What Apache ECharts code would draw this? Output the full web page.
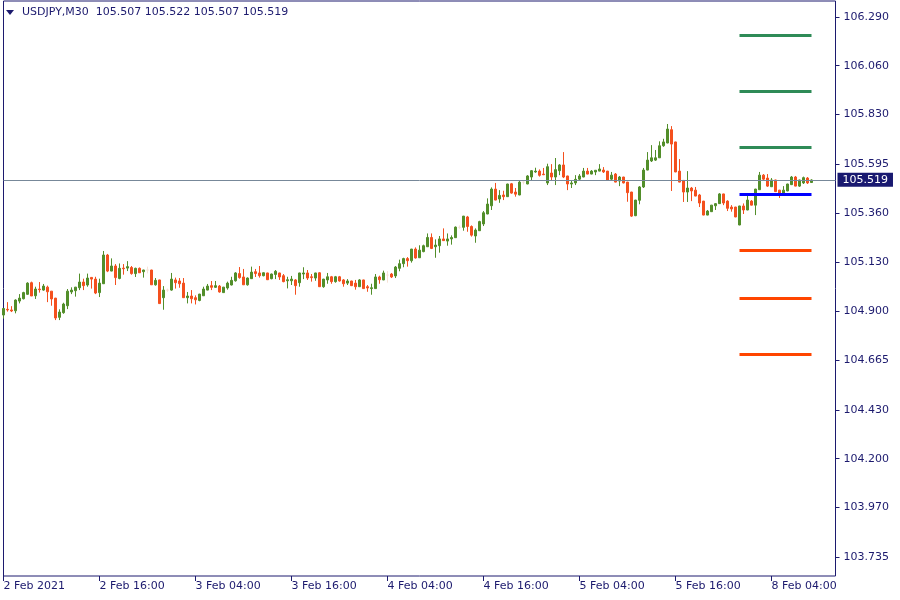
<!DOCTYPE html>
<html><head><meta charset="utf-8">
<script src="https://cdn.jsdelivr.net/npm/echarts@6/dist/echarts.min.js"></script>
<style>html,body{margin:0;padding:0;background:#fff}#c{width:900px;height:600px}</style>
</head><body><div id="c"></div>
<script>
const symbolName = 'USDJPY,M30';
const lastOHLC = [105.507, 105.522, 105.507, 105.519];
const currentPrice = 105.519;

const opens = [
104.880,104.907,104.904,104.900,104.946,104.957,104.978,105.033,104.971,105.003,
104.998,105.012,104.993,104.960,104.869,104.891,104.924,104.989,104.995,105.009,
105.036,105.022,105.058,105.050,104.986,105.028,105.164,105.088,105.112,105.053,
105.102,105.102,105.105,105.076,105.101,105.085,105.093,105.093,105.023,105.046,
104.962,104.998,104.998,105.046,105.041,105.031,104.962,104.970,104.962,104.949,
104.971,104.998,105.019,105.011,105.017,104.986,105.008,105.022,105.042,105.076,
105.060,105.023,105.052,105.085,105.079,105.066,105.079,105.052,105.072,105.079,
105.066,105.042,105.042,105.046,105.033,105.074,105.079,105.061,105.055,105.080,
105.014,105.046,105.061,105.038,105.061,105.046,105.031,105.041,105.031,105.014,
105.046,105.014,105.005,105.005,105.060,105.046,105.069,105.074,105.065,105.101,
105.123,105.147,105.137,105.192,105.151,105.180,105.203,105.247,105.203,105.208,
105.240,105.230,105.240,105.246,105.295,105.295,105.344,105.299,105.254,105.279,
105.311,105.358,105.397,105.476,105.429,105.448,105.440,105.501,105.462,105.448,
105.509,105.500,105.533,105.557,105.561,105.547,105.505,105.552,105.533,105.563,
105.590,105.538,105.500,105.505,105.523,105.533,105.561,105.547,105.557,105.561,
105.566,105.561,105.523,105.547,105.514,105.533,105.509,105.462,105.350,105.423,
105.486,105.566,105.609,105.613,105.624,105.681,105.694,105.757,105.699,105.561,
105.517,105.462,105.481,105.471,105.448,105.419,105.353,105.369,105.397,105.407,
105.453,105.419,105.391,105.391,105.306,105.396,105.377,105.419,105.400,105.473,
105.542,105.528,105.487,105.519,105.471,105.453,105.467,105.497,105.533,105.490,
105.505,105.528,105.507];
const closes = [
104.911,104.904,104.899,104.951,104.960,104.986,105.031,104.970,105.003,105.000,
105.017,104.990,104.956,104.866,104.894,104.932,104.993,104.998,105.012,105.036,
105.019,105.055,105.050,104.984,105.031,105.164,105.088,105.112,105.057,105.101,
105.099,105.109,105.076,105.101,105.080,105.093,105.093,105.023,105.044,104.934,
104.998,104.998,105.050,105.033,105.028,104.962,104.970,104.957,104.952,104.979,
105.003,105.017,105.011,105.019,104.989,105.012,105.031,105.044,105.079,105.057,
105.023,105.055,105.083,105.076,105.066,105.080,105.047,105.074,105.087,105.060,
105.038,105.047,105.050,105.019,105.079,105.079,105.055,105.057,105.079,105.014,
105.050,105.061,105.038,105.061,105.041,105.028,105.041,105.019,105.014,105.046,
105.005,105.008,105.009,105.060,105.047,105.079,105.069,105.060,105.107,105.123,
105.147,105.137,105.192,105.150,105.187,105.208,105.247,105.195,105.211,105.240,
105.232,105.240,105.247,105.296,105.295,105.348,105.299,105.258,105.282,105.322,
105.364,105.405,105.476,105.424,105.446,105.440,105.500,105.457,105.452,105.509,
105.509,105.538,105.563,105.561,105.541,105.544,105.582,105.533,105.568,105.590,
105.533,105.500,105.505,105.522,105.538,105.561,105.547,105.561,105.565,105.571,
105.557,105.519,105.542,105.509,105.533,105.505,105.459,105.348,105.424,105.486,
105.566,105.613,105.624,105.624,105.681,105.699,105.760,105.689,105.557,105.509,
105.462,105.481,105.467,105.443,105.410,105.353,105.372,105.400,105.407,105.453,
105.410,105.385,105.382,105.344,105.396,105.377,105.424,105.400,105.476,105.542,
105.523,105.490,105.519,105.464,105.453,105.471,105.500,105.533,105.490,105.519,
105.530,105.505,105.519];
const lows = [
104.863,104.896,104.894,104.888,104.935,104.954,104.975,104.970,104.956,104.986,
104.995,104.941,104.924,104.856,104.856,104.886,104.908,104.979,104.967,104.998,
104.998,105.014,105.005,104.979,104.965,105.027,105.083,105.087,105.022,105.049,
105.071,105.088,105.071,105.060,105.079,105.057,105.077,105.022,105.019,104.933,
104.905,104.990,104.995,105.005,105.009,104.961,104.935,104.935,104.930,104.945,
104.970,104.997,104.998,105.008,104.986,104.985,105.000,105.020,105.038,105.052,
105.022,105.019,105.051,105.060,105.057,105.063,105.046,105.049,105.050,105.046,
105.035,105.006,105.022,104.976,105.014,105.050,105.046,105.038,105.042,105.013,
105.009,105.028,105.028,105.033,105.038,105.014,105.022,105.017,105.000,105.013,
105.004,104.990,104.976,105.004,105.028,105.045,105.033,105.055,105.055,105.087,
105.106,105.109,105.128,105.147,105.150,105.177,105.202,105.192,105.151,105.175,
105.231,105.208,105.213,105.245,105.288,105.279,105.274,105.251,105.222,105.278,
105.301,105.357,105.377,105.423,105.411,105.424,105.439,105.454,105.440,105.447,
105.498,105.499,105.519,105.553,105.535,105.542,105.495,105.517,105.495,105.542,
105.528,105.471,105.481,105.495,105.519,105.532,105.546,105.546,105.542,105.560,
105.552,105.518,105.519,105.508,105.490,105.503,105.416,105.344,105.348,105.404,
105.481,105.565,105.604,105.609,105.623,105.676,105.693,105.467,105.556,105.508,
105.415,105.415,105.419,105.442,105.391,105.352,105.352,105.368,105.377,105.406,
105.400,105.372,105.369,105.343,105.305,105.358,105.376,105.399,105.353,105.472,
105.519,105.486,105.486,105.462,105.434,105.452,105.466,105.495,105.489,105.486,
105.500,105.500,105.507];
const highs = [
104.913,104.941,104.922,104.954,104.979,104.990,105.035,105.038,105.014,105.036,
105.027,105.019,104.993,104.961,104.907,104.938,105.003,105.011,105.013,105.076,
105.052,105.076,105.059,105.061,105.052,105.183,105.169,105.148,105.121,105.124,
105.121,105.135,105.112,105.104,105.105,105.094,105.109,105.094,105.055,105.047,
105.017,105.005,105.079,105.057,105.055,105.055,104.989,104.998,104.973,104.980,
105.014,105.027,105.041,105.041,105.022,105.013,105.038,105.061,105.083,105.107,
105.098,105.058,105.109,105.098,105.112,105.082,105.080,105.076,105.093,105.080,
105.074,105.061,105.065,105.050,105.080,105.106,105.093,105.074,105.080,105.083,
105.051,105.079,105.065,105.065,105.065,105.050,105.050,105.042,105.046,105.050,
105.047,105.022,105.028,105.074,105.066,105.090,105.088,105.079,105.112,105.142,
105.151,105.154,105.193,105.200,105.210,105.213,105.266,105.266,105.238,105.254,
105.290,105.266,105.257,105.299,105.304,105.349,105.349,105.304,105.290,105.326,
105.372,105.432,105.484,105.505,105.471,105.468,105.501,105.505,105.481,105.514,
105.514,105.542,105.566,105.577,105.569,105.576,105.596,105.594,105.623,105.594,
105.651,105.539,105.519,105.542,105.547,105.576,105.576,105.566,105.566,105.594,
105.580,105.562,105.557,105.552,105.538,105.534,105.510,105.463,105.425,105.490,
105.576,105.651,105.684,105.661,105.702,105.714,105.784,105.774,105.700,105.618,
105.518,105.561,105.486,105.486,105.453,105.420,105.377,105.401,105.410,105.457,
105.454,105.423,105.400,105.392,105.397,105.408,105.448,105.424,105.477,105.557,
105.547,105.547,105.528,105.520,105.472,105.490,105.501,105.538,105.538,105.520,
105.535,105.533,105.522];

const tickLabels = ['2 Feb 2021','2 Feb 16:00','3 Feb 04:00','3 Feb 16:00','4 Feb 04:00','4 Feb 16:00','5 Feb 04:00','5 Feb 16:00','8 Feb 04:00'];
const barsPerTick = 24;
const totalSlots = 209;
const priceTicks = [103.735,103.970,104.200,104.430,104.665,104.900,105.130,105.360,105.595,105.830,106.060,106.290];
const levelValues = [106.205,105.940,105.675,105.452,105.188,104.960,104.695];
const levelStartBar = 184;
const levelEndBar = 202;

const navy = '#1c1a6e';
const bull = '#528e2a';
const bear = '#f4501e';
const doji = '#f6e2d6';
const levelColors = ['#2e8b57','#2e8b57','#2e8b57','#0000ff','#ff4500','#ff4500','#ff4500'];
const font = 'DejaVu Sans';

const categories = [];
for (let i = 0; i < totalSlots; i++) categories.push(String(i));

const candleData = opens.map((o, i) => {
  const v = [o, closes[i], lows[i], highs[i]];
  if (o === closes[i]) {
    return {value: v, itemStyle: {color: doji, color0: doji, borderColor: doji, borderColor0: doji}};
  }
  return v;
});

const isTick = (i) => i % barsPerTick === 0 && i / barsPerTick < tickLabels.length;

const markData = [
  {yAxis: currentPrice,
   lineStyle: {color: '#778899', width: 1, type: 'solid'},
   label: {show: true, position: 'end', distance: 2, formatter: () => currentPrice.toFixed(3),
           backgroundColor: '#191970', color: '#ffffff', padding: [2, 5, 1, 5],
           fontFamily: font, fontSize: 11}}
];
levelValues.forEach((v, k) => {
  markData.push([
    {coord: [levelStartBar, v], lineStyle: {color: levelColors[k], width: 3, type: 'solid'}, label: {show: false}},
    {coord: [levelEndBar, v]}
  ]);
});

const chart = echarts.init(document.getElementById('c'), null, {renderer: 'canvas'});
chart.setOption({
  animation: false,
  backgroundColor: '#ffffff',
  title: {
    text: symbolName + '  ' + lastOHLC.map(v => v.toFixed(3)).join(' '),
    left: 22, top: 7, padding: 0,
    textStyle: {fontSize: 11, fontWeight: 'normal', color: navy, fontFamily: font}
  },
  graphic: [{type: 'polygon', shape: {points: [[6, 10], [14, 10], [10, 15]]}, style: {fill: navy}}],
  grid: {left: 3.5, right: 64.5, top: 1, bottom: 24, show: true, borderColor: navy, borderWidth: 1, backgroundColor: 'transparent'},
  xAxis: {
    type: 'category', data: categories, boundaryGap: false,
    axisLine: {show: false},
    axisTick: {show: true, interval: (i) => isTick(i), length: 5, lineStyle: {color: navy}},
    axisLabel: {interval: (i) => isTick(i), align: 'left', margin: 5, color: navy, fontFamily: font, fontSize: 11,
                formatter: (val, idx) => tickLabels[Math.round(idx / barsPerTick)] || ''},
    splitLine: {show: false}
  },
  yAxis: {
    type: 'value', position: 'right', min: 103.645, max: 106.366,
    axisLine: {show: false},
    splitLine: {show: false},
    axisTick: {show: true, customValues: priceTicks, length: 4, lineStyle: {color: navy}},
    axisLabel: {customValues: priceTicks, margin: 8, color: navy, fontFamily: font, fontSize: 11,
                formatter: (v) => Number(v).toFixed(3)}
  },
  series: [{
    type: 'candlestick',
    data: candleData,
    barWidth: 2,
    itemStyle: {color: bull, color0: bear, borderColor: bull, borderColor0: bear, borderWidth: 1},
    markLine: {symbol: ['none', 'none'], silent: true, animation: false, data: markData}
  }]
});
</script>
</body></html>
